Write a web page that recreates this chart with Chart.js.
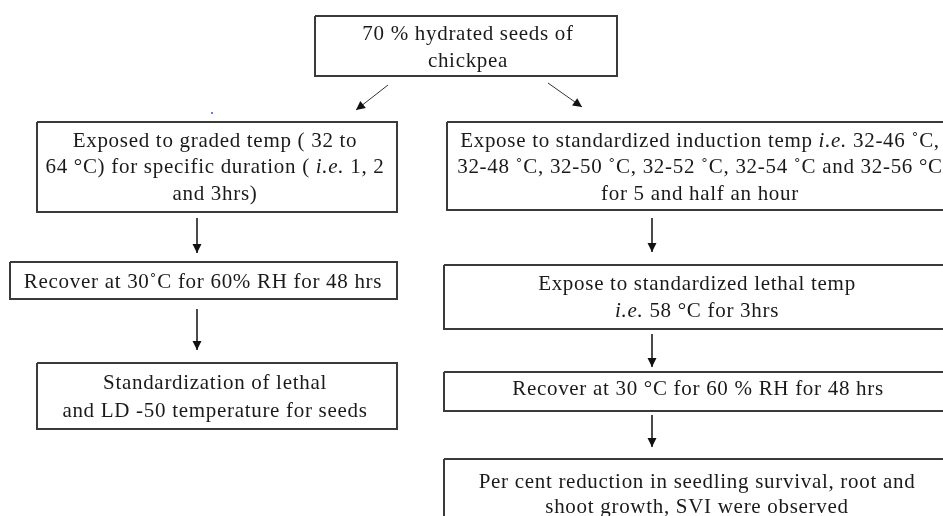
<!DOCTYPE html>
<html>
<head>
<meta charset="utf-8">
<script src="https://cdn.jsdelivr.net/npm/chart.js"></script>
<style>
  body { margin: 0; background: #fff; }
  canvas { display: block; }
</style>
</head>
<body>
<canvas id="flowChart" width="943" height="516"></canvas>
<script>
// Boxes of the flow chart: top, left-1, right-1, left-2, right-2, left-3, right-3, right-4
const boxLeft   = [315, 37, 447, 10, 444, 37, 444, 444];
const boxRight  = [617, 397, 960, 397, 960, 397, 960, 960];
const boxTop    = [16, 122, 122, 262, 265, 363, 372, 459];
const boxBottom = [76, 212, 210, 299, 329, 429, 411, 540];

// Text inside each box (segments between _ are italic)
const boxLines = [
  ["70 % hydrated seeds of", "chickpea"],
  ["Exposed to graded temp ( 32 to", "64 °C) for specific duration ( _i.e._ 1, 2", "and 3hrs)"],
  ["Expose to standardized induction temp _i.e._ 32-46 ˚C,", "32-48 ˚C, 32-50 ˚C, 32-52 ˚C, 32-54 ˚C and 32-56 °C", "for 5 and half an hour"],
  ["Recover at 30˚C for 60% RH for 48 hrs"],
  ["Expose to standardized lethal temp", "_i.e._ 58 °C for 3hrs"],
  ["Standardization of lethal", "and LD -50 temperature for seeds"],
  ["Recover at 30 °C for 60 % RH for 48 hrs"],
  ["Per cent reduction in seedling survival, root and", "shoot growth, SVI were observed"]
];
const textCenterX = [468, 215, 700, 203, 697, 215, 698, 697];
const textBaseline = [
  [40, 67],
  [147, 173, 200],
  [147, 173, 200],
  [288],
  [290, 317],
  [389, 417],
  [395],
  [488, 513]
];

// Arrows: start -> end
const arrowX0 = [388, 548, 197, 652, 197, 652, 652];
const arrowY0 = [85, 83, 218, 218, 309, 334, 415];
const arrowX1 = [356, 582, 197, 652, 197, 652, 652];
const arrowY1 = [110, 107, 253, 252, 350, 367, 447];

const datasets = [];
boxLeft.forEach((l, i) => {
  const r = boxRight[i], t = boxTop[i], b = boxBottom[i];
  datasets.push({
    data: [{x: l, y: t}, {x: r, y: t}, {x: r, y: b}, {x: l, y: b}, {x: l, y: t}],
    showLine: true,
    borderColor: "#3a3a3a",
    borderWidth: 2,
    pointRadius: 0,
    pointHoverRadius: 0,
    tension: 0
  });
});
arrowX0.forEach((x0, i) => {
  datasets.push({
    data: [{x: x0, y: arrowY0[i]}, {x: arrowX1[i], y: arrowY1[i]}],
    showLine: true,
    borderColor: "#333",
    borderWidth: 1,
    pointRadius: 0,
    pointHoverRadius: 0
  });
});
// small stray blue mark
datasets.push({
  data: [{x: 212, y: 113}],
  pointRadius: 1,
  pointHoverRadius: 1,
  pointBackgroundColor: "#3355dd",
  pointBorderWidth: 0
});

const FONT = '"Liberation Serif", "Times New Roman", serif';
const FONT_SIZE = 21;

const flowPlugin = {
  id: "flow",
  afterDatasetsDraw(chart) {
    const { ctx, scales: { x, y } } = chart;
    ctx.save();

    // arrow heads
    ctx.fillStyle = "#111";
    arrowX0.forEach((x0, i) => {
      const px0 = x.getPixelForValue(x0), py0 = y.getPixelForValue(arrowY0[i]);
      const px1 = x.getPixelForValue(arrowX1[i]), py1 = y.getPixelForValue(arrowY1[i]);
      const a = Math.atan2(py1 - py0, px1 - px0);
      const len = 9, half = 4.5;
      ctx.beginPath();
      ctx.moveTo(px1, py1);
      ctx.lineTo(px1 - len * Math.cos(a) + half * Math.sin(a), py1 - len * Math.sin(a) - half * Math.cos(a));
      ctx.lineTo(px1 - len * Math.cos(a) - half * Math.sin(a), py1 - len * Math.sin(a) + half * Math.cos(a));
      ctx.closePath();
      ctx.fill();
    });

    // box text
    ctx.fillStyle = "#1a1a1a";
    ctx.textBaseline = "alphabetic";
    ctx.textAlign = "left";
    ctx.letterSpacing = "0.7px";
    boxLines.forEach((lines, i) => {
      lines.forEach((line, j) => {
        const parts = line.split("_").map((s, k) => ({ s, italic: k % 2 === 1 }));
        let total = 0;
        parts.forEach(p => {
          ctx.font = (p.italic ? "italic " : "") + FONT_SIZE + "px " + FONT;
          p.w = ctx.measureText(p.s).width;
          total += p.w;
        });
        let px = x.getPixelForValue(textCenterX[i]) - total / 2;
        const py = y.getPixelForValue(textBaseline[i][j]);
        parts.forEach(p => {
          ctx.font = (p.italic ? "italic " : "") + FONT_SIZE + "px " + FONT;
          ctx.fillText(p.s, px, py);
          px += p.w;
        });
      });
    });
    ctx.restore();
  }
};

new Chart(document.getElementById("flowChart"), {
  type: "scatter",
  data: { datasets },
  options: {
    responsive: false,
    animation: false,
    events: [],
    layout: { padding: 0, autoPadding: false },
    plugins: { legend: { display: false }, tooltip: { enabled: false } },
    scales: {
      x: { type: "linear", min: 0, max: 943, display: false },
      y: { type: "linear", min: 0, max: 516, reverse: true, display: false }
    }
  },
  plugins: [flowPlugin]
});
</script>
</body>
</html>
